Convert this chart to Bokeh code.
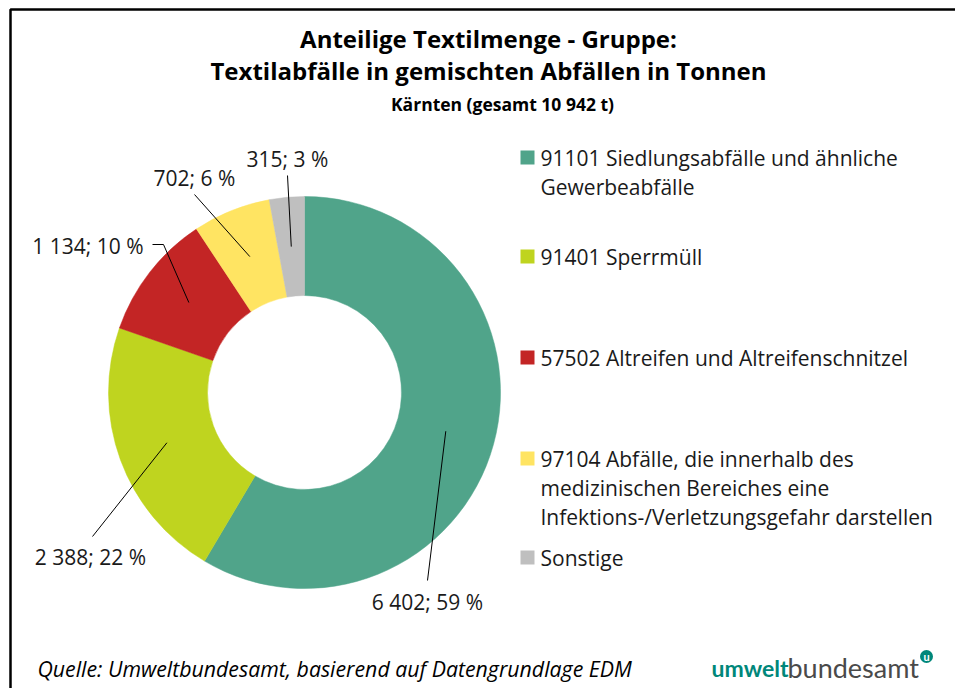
import math
from bokeh.plotting import figure
from bokeh.models import Range1d
from bokeh.embed import file_html
from bokeh.resources import INLINE
from bokeh.core.properties import value

# ---------------- data ----------------
title_lines = ["Anteilige Textilmenge - Gruppe:",
               "Textilabfälle in gemischten Abfällen in Tonnen"]
subtitle = "Kärnten (gesamt 10 942 t)"
source_text = "Quelle: Umweltbundesamt, basierend auf Datengrundlage EDM"

categories = ["91101 Siedlungsabfälle und ähnliche Gewerbeabfälle",
              "91401 Sperrmüll",
              "57502 Altreifen und Altreifenschnitzel",
              "97104 Abfälle, die innerhalb des medizinischen Bereiches eine Infektions-/Verletzungsgefahr darstellen",
              "Sonstige"]
legend_lines = [["91101 Siedlungsabfälle und ähnliche", "Gewerbeabfälle"],
                ["91401 Sperrmüll"],
                ["57502 Altreifen und Altreifenschnitzel"],
                ["97104 Abfälle, die innerhalb des",
                 "medizinischen Bereiches eine",
                 "Infektions-/Verletzungsgefahr darstellen"],
                ["Sonstige"]]
values = [6402, 2388, 1134, 702, 315]
colors = ["#50A48A", "#BFD41F", "#C32525", "#FFE462", "#BFBFBF"]

# ---------------- layout (image pixel coords, y downward -> data y = -y) ----------------
FONT = "Open Sans"
W, H = 955, 688
cx, cy = 304, 392
r_out, r_in = 196, 97

p = figure(width=W, height=H, x_range=Range1d(0, W), y_range=Range1d(-H, 0),
           output_backend="svg", toolbar_location=None, tools="")
p.axis.visible = False
p.grid.visible = False
p.outline_line_color = None
p.border_fill_color = "white"
p.min_border = 0
p.background_fill_color = "white"

# frame border (left + top visible)
p.line([10, 10, 960], [-700, -9, -9], line_color="black", line_width=2.5)

# ---------------- donut ----------------
total = sum(values)
starts, ends, mids = [], [], []
cum = 0
for v in values:
    a0 = math.pi / 2 - 2 * math.pi * cum / total
    cum += v
    a1 = math.pi / 2 - 2 * math.pi * cum / total
    starts.append(a0)
    ends.append(a1)
    mids.append((a0 + a1) / 2)

p.annular_wedge(x=[cx] * len(values), y=[-cy] * len(values),
                inner_radius=r_in, outer_radius=r_out,
                start_angle=starts, end_angle=ends, direction="clock",
                fill_color=colors, line_color=colors, line_width=0.5)

# ---------------- data labels ----------------
labels = [f"{v:,}".replace(",", " ") + f"; {round(100 * v / total)} %" for v in values]
lab_x = [427, 90, 143, 194, 287]
lab_y = [601, 556, 245, 177, 158]
lab_align = ["center", "center", "right", "center", "center"]
line_ends = [[(427, 580)], [(92, 536)], [(163, 244), (152, 244)], [(194, 194)], [(287, 175)]]

r_mid = (r_in + r_out) / 2
xs, ys = [], []
for m, pts in zip(mids, line_ends):
    ax = cx + r_mid * math.cos(m)
    ay = cy - r_mid * math.sin(m)
    xs.append([ax] + [q[0] for q in pts])
    ys.append([-ay] + [-q[1] for q in pts])
p.multi_line(xs, ys, line_color="black", line_width=1)

for t, x, y, al in zip(labels, lab_x, lab_y, lab_align):
    p.text(x=[x], y=[-y], text=[t], text_font=value(FONT), text_font_size="21px",
           text_align=al, text_baseline="middle", text_color="#1a1a1a")

# ---------------- title ----------------
p.text(x=[488], y=[-38], text=[title_lines[0]], text_font=value(FONT), text_font_size="24px",
       text_font_style="bold", text_align="center", text_baseline="middle", text_color="black")
p.text(x=[488], y=[-70], text=[title_lines[1]], text_font=value(FONT), text_font_size="24px",
       text_font_style="bold", text_align="center", text_baseline="middle", text_color="black")
p.text(x=[502], y=[-103], text=[subtitle], text_font=value(FONT), text_font_size="17.5px",
       text_font_style="bold", text_align="center", text_baseline="middle", text_color="black")

# ---------------- legend ----------------
leg_y = [157, 256, 357, 458, 557]
line_gap = 29
for lines, col, y0 in zip(legend_lines, colors, leg_y):
    p.rect(x=[527], y=[-y0], width=14, height=14, fill_color=col, line_color=None)
    for i, ln in enumerate(lines):
        p.text(x=[540], y=[-(y0 + i * line_gap)], text=[ln], text_font=value(FONT),
               text_font_size="21px", text_align="left", text_baseline="middle",
               text_color="#1a1a1a")

# ---------------- source & logo ----------------
p.text(x=[37], y=[-668], text=[source_text], text_font=value(FONT), text_font_size="21.3px",
       text_font_style="italic", text_align="left", text_baseline="middle", text_color="black")
p.text(x=[711], y=[-667], text=["umwelt"], text_font=value("Lato"), text_font_size="23px",
       text_font_style="bold", text_align="left", text_baseline="middle", text_color="#00877A")
p.text(x=[787], y=[-667], text=["bundesamt"], text_font=value("Lato"), text_font_size="27px",
       text_align="left", text_baseline="middle", text_color="#4a4a4a")
p.scatter(x=[926], y=[-656], size=13, marker="circle", fill_color="#00877A", line_color=None)
p.text(x=[926], y=[-656], text=["u"], text_font=value("Lato"), text_font_size="11px",
       text_font_style="bold", text_align="center", text_baseline="middle", text_color="white")

open("out.html", "w").write(file_html(p, INLINE))
